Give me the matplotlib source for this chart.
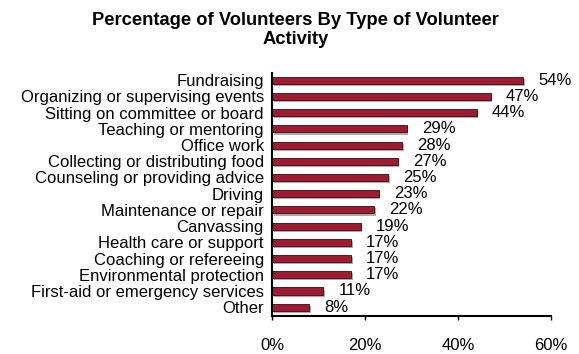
import matplotlib
matplotlib.use("Agg")
from matplotlib import pyplot as plt
import matplotlib.patheffects as pe

plt.rcParams['font.family'] = ['Liberation Sans', 'DejaVu Sans']

activities = ["Fundraising", "Organizing or supervising events", "Sitting on committee or board",
              "Teaching or mentoring", "Office work", "Collecting or distributing food",
              "Counseling or providing advice", "Driving", "Maintenance or repair",
              "Canvassing", "Health care or support", "Coaching or refereeing",
              "Environmental protection", "First-aid or emergency services", "Other"]
percent = [54, 47, 44, 29, 28, 27, 25, 23, 22, 19, 17, 17, 17, 11, 8]
xticks = [0, 20, 40, 60]

fig = plt.figure(figsize=(5.79, 3.54), dpi=100)
ax = fig.add_axes([0.470, 0.107, 0.482, 0.687])

ypos = list(range(len(activities)))
bars = ax.barh(ypos, percent, height=0.44, color='#9E1B32', edgecolor='#3a0a12', linewidth=0.6)
for b in bars:
    b.set_path_effects([pe.SimplePatchShadow(offset=(1, -1.5), shadow_rgbFace='#888888', alpha=0.7), pe.Normal()])

# value labels to the right of each bar
for y, v in zip(ypos, percent):
    ax.annotate(f"{v}%", (v, y), xytext=(15, 0), textcoords='offset pixels',
                ha='left', va='center', fontsize=12)

ax.set_xlim(0, 60)
ax.set_ylim(len(activities) - 0.45, -0.45)
ax.set_yticks(ypos)
ax.set_yticklabels(activities, fontsize=12)
ax.set_xticks(xticks)
ax.set_xticklabels([f"{t}%" for t in xticks], fontsize=12)
ax.tick_params(axis='y', length=0, pad=6)
ax.tick_params(axis='x', direction='out', length=3, width=1, pad=13)
for s in ['top', 'right']:
    ax.spines[s].set_visible(False)
ax.spines['left'].set_linewidth(1.5)
ax.spines['bottom'].set_linewidth(1.5)

fig.text(0.51, 0.965, "Percentage of Volunteers By Type of Volunteer\nActivity",
         ha='center', va='top', fontsize=13.2, fontweight='bold', linespacing=1.15)

fig.savefig("out.png", dpi=100)
